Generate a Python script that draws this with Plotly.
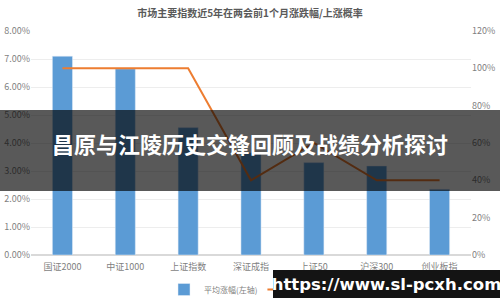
import plotly.graph_objects as go

categories = ["国证2000", "中证1000", "上证指数", "深证成指", "上证50", "沪深300", "创业板指"]
avg_gain = [7.10, 6.65, 4.55, 3.65, 3.30, 3.18, 2.35]
up_prob = [100, 100, 100, 40, 60, 40, 40]
left_ticks = [0, 1, 2, 3, 4, 5, 6, 7, 8]
right_ticks = [0, 20, 40, 60, 80, 100, 120]

FONT = "Noto Sans CJK SC"
GRAY = "#7f7f7f"

fig = go.Figure()
fig.add_trace(go.Bar(x=categories, y=avg_gain, name="平均涨幅(左轴)",
                     marker_color="#5B9BD5", width=0.32, yaxis="y"))
fig.add_trace(go.Scatter(x=categories, y=up_prob, name="上涨概率(右轴)",
                         mode="lines", line=dict(color="#ED7D31", width=2), yaxis="y2"))

fig.update_layout(
    width=500, height=300,
    margin=dict(l=31, r=29, t=31, b=45, autoexpand=False),
    paper_bgcolor="white", plot_bgcolor="white",
    font=dict(family=FONT, color=GRAY, size=9),
    title=dict(text="<b>市场主要指数近5年在两会前1个月涨跌幅/上涨概率</b>",
               x=0.5, xanchor="center", y=0.955, yanchor="middle",
               font=dict(size=10, color="#595959", family=FONT)),
    bargap=0.68,
    showlegend=True,
    legend=dict(orientation="h", x=0.525, xanchor="center", y=0.035, yanchor="middle",
                yref="container", xref="container", bgcolor="rgba(0,0,0,0)",
                font=dict(size=8, color=GRAY), itemwidth=30, tracegroupgap=0),
    xaxis=dict(showgrid=False, showline=False, ticks="", ticklabelstandoff=5,
               tickfont=dict(size=9, color=GRAY)),
    yaxis=dict(range=[0, 8], tickvals=left_ticks,
               ticktext=[f"{v:.2f}%" for v in left_ticks],
               showgrid=True, gridcolor="#EDEDED", gridwidth=1, zeroline=True,
               zerolinecolor="#D9D9D9", tickfont=dict(size=9, color=GRAY)),
    yaxis2=dict(range=[0, 120], tickvals=right_ticks,
                ticktext=[f"{v}%" for v in right_ticks],
                overlaying="y", side="right", showgrid=False, zeroline=False,
                tickfont=dict(size=9, color=GRAY)),
)

# overlay band with headline
fig.add_shape(type="rect", xref="paper", yref="paper",
              x0=-0.08, x1=1.08, y0=0.286, y1=0.647,
              fillcolor="rgba(0,0,0,0.65)", line_width=0, layer="above")
fig.add_annotation(xref="paper", yref="paper", x=0.497, y=0.50,
                   text="<b>昌原与江陵历史交锋回顾及战绩分析探讨</b>", showarrow=False,
                   font=dict(size=22, color="white", family=FONT),
                   xanchor="center", yanchor="middle")
# url box (annotation with its own background so it sits over the legend)
fig.add_annotation(xref="paper", yref="paper", x=0.55, y=-0.067,
                   xanchor="left", yanchor="top",
                   width=227, height=28, align="center", valign="middle",
                   bgcolor="#141414", borderpad=0, borderwidth=0,
                   text="<b>https://www.sl-pcxh.com</b>", showarrow=False,
                   font=dict(size=16.5, color="white", family="DejaVu Sans"))

fig.write_html("out.html")
